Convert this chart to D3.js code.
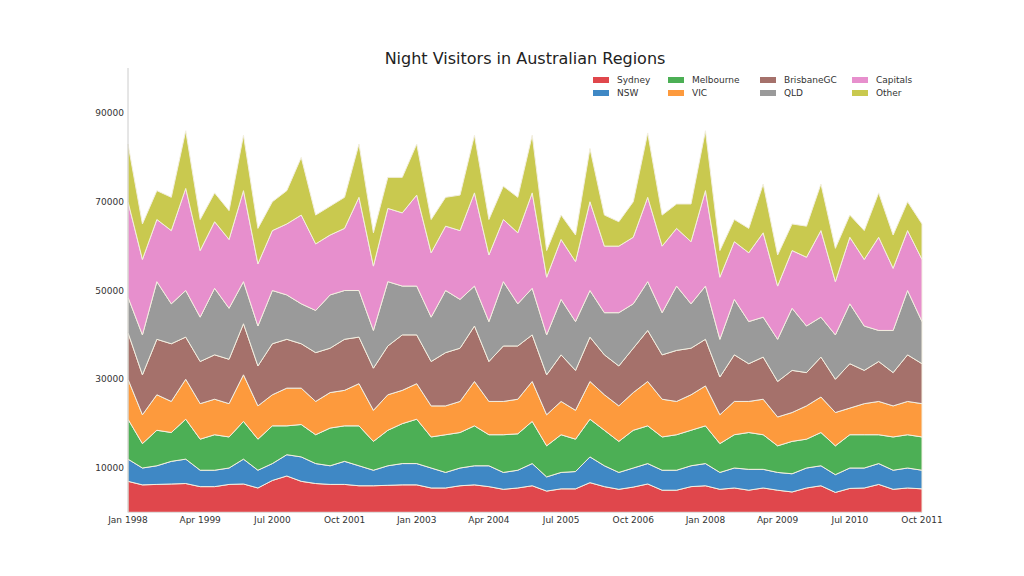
<!DOCTYPE html>
<html><head><meta charset="utf-8">
<script src="https://cdn.jsdelivr.net/npm/d3@7"></script>
<style>body{margin:0;background:#fff}text{font-family:"DejaVu Sans",sans-serif}</style>
</head><body><svg id="c" width="1024" height="576"></svg>
<script>
const seriesNames = ["Sydney","NSW","Melbourne","VIC","BrisbaneGC","QLD","Capitals","Other"];
const colors = ["#e0474c","#3f88c5","#4caf55","#fd9a3d","#a5716b","#9a9a9a","#e78fcd","#c9c94f"];
const xTickLabels = ["Jan 1998","Apr 1999","Jul 2000","Oct 2001","Jan 2003","Apr 2004","Jul 2005","Oct 2006","Jan 2008","Apr 2009","Jul 2010","Oct 2011"];
const yTicks = [10000,30000,50000,70000,90000];
// cumulative upper boundaries (thousands), one per series
const sydneyTop = [7,6.2,6.3,6.4,6.5,5.8,5.8,6.3,6.4,5.5,7.2,8.2,7,6.5,6.3,6.3,6,6,6.1,6.2,6.2,5.5,5.5,6,6.2,5.8,5.2,5.5,6,4.8,5.3,5.3,6.7,5.8,5.2,5.7,6.4,5,5,5.8,6,5.2,5.5,5,5.5,5,4.6,5.5,6,4.5,5.4,5.5,6.3,5.2,5.5,5.3];
const nswTop = [12,10,10.5,11.5,12,9.5,9.5,10,12,9.5,11,13,12.5,11,10.5,11.5,10.5,9.5,10.5,11,11,10,9,10,10.5,10.5,9,9.5,11,8,9,9.2,12.5,10.5,9,10,11,9.5,9.5,10.5,11,9,10,9.7,9.7,9,8.7,10,10.5,8.5,10,10,11,9.5,10,9.5];
const melbourneTop = [21,15.5,18.5,18,21,16.5,17.5,17,20.5,16.5,19.5,19.5,19.8,17.5,19,19.5,19.5,16,18.5,20,21,17,17.5,18,19.5,17.5,17.5,17.7,20.5,15,17.5,16.5,21,18.5,16,18.5,19.5,17,17.5,18.5,19.5,15.5,17.5,18,17.5,15,16,16.5,18,15,17.5,17.5,17.5,17,17.5,17];
const vicTop = [30,22,26.5,25,30,24.5,25.5,24.5,31,24,26.5,28,28,25,27,27.5,29,23,26.5,27.5,29,24,24,25,29.5,25,25,25.5,29.5,22,25,23,29.5,26.5,24,27,29.5,25.5,25,26.5,28.5,22,25,25,25.5,21.5,22.5,24,26,22.5,23.5,24.5,25,24,25,24.5];
const brisbaneTop = [40.5,31,39,38,39.5,34,35.5,34.5,42.5,33,38,39,38,36,37,39,39.5,32.5,37.5,40,40,34,36,37,42,34,37.5,37.5,40,31,35.5,32,39.5,35.5,33,37,41,35.5,36.5,37,39,30.5,35.5,33.5,35,29.5,32,31.5,35,30,33.5,32,34,31.5,35.5,33.5];
const qldTop = [48.5,40,52,47,50,44,50.5,46,52,42,50,49,47,45.5,49,50,50,41,52,51,51,44,50,48,51,43,52,47,50.5,40,48,43,50,45,45,47,52,45,51,47,51,39,48,43,44,39,46,42,44,40,47,42,41,41,50,43];
const capitalsTop = [70,57,66,63.5,73,59,65.5,61.5,72.5,56,63.5,65,67,60.5,62.5,64,71,55.5,68.5,67.5,71.5,58.5,64.5,63.5,72,58,66,63,72,53,61.5,56.5,70,60,60,62,71,60,64,61,72.5,53,61,58.5,63,51,59,57.5,63.5,52,62,57,62,55,63.5,57];
const otherTop = [83,65,72.5,71,86,66,72,68,85,64,70,72.5,80,67,69,71,83,63,75.5,75.5,83,66,71,71.5,85,66,73.5,71,85,59,67,62.5,82,67,65.5,70,85.5,67,69.5,69.5,86,59,66,64,74,58,65,64.5,74,59.5,67,63.5,72,62.5,70,65];

const tops = [sydneyTop,nswTop,melbourneTop,vicTop,brisbaneTop,qldTop,capitalsTop,otherTop];
const rows = sydneyTop.map((_,i)=>{
  const r={i};
  seriesNames.forEach((n,k)=>{ r[n]=(tops[k][i]-(k?tops[k-1][i]:0))*1000; });
  return r;
});
const svg=d3.select("#c");
const x=d3.scaleLinear().domain([0,55]).range([128,922]);
const y=d3.scaleLinear().domain([0,100000]).range([512.4,287.0-225]);
// fix: 225.4 px per 50000? compute: 10000->468, 90000->113
y.domain([10000,90000]).range([468,113]);
const stack=d3.stack().keys(seriesNames)(rows);
const area=d3.area().x(d=>x(d.data.i)).y0(d=>y(d[0])).y1(d=>y(d[1]));
svg.selectAll("path.a").data(stack).join("path").attr("class","a")
  .attr("d",area).attr("fill",(d,k)=>colors[k]).attr("stroke","#f3efe0").attr("stroke-width",1);
svg.append("line").attr("x1",128).attr("x2",128).attr("y1",68).attr("y2",y(0)).attr("stroke","#ccc");
svg.append("line").attr("x1",128).attr("x2",922).attr("y1",y(0)).attr("y2",y(0)).attr("stroke","#ddd");
svg.selectAll("text.yt").data(yTicks).join("text").attr("class","yt")
  .attr("x",124).attr("y",d=>y(d)+3).attr("text-anchor","end").attr("font-size",9).attr("fill","#333").text(d=>d);
svg.selectAll("text.xt").data(xTickLabels).join("text").attr("class","xt")
  .attr("x",(d,i)=>x(i*5)).attr("y",523).attr("text-anchor","middle").attr("font-size",9).attr("fill","#333").text(d=>d);
svg.append("text").attr("x",525).attr("y",64).attr("text-anchor","middle").attr("font-size",16).attr("fill","#222").text("Night Visitors in Australian Regions");
const lx=[593,668,760,852];
seriesNames.forEach((n,k)=>{
  const cx=lx[Math.floor(k/2)], cy=k%2?93:80;
  svg.append("rect").attr("x",cx).attr("y",cy-3).attr("width",16).attr("height",6).attr("fill",colors[k]);
  svg.append("text").attr("x",cx+24).attr("y",cy+3).attr("font-size",9).attr("fill","#333").text(n);
});
</script></body></html>
